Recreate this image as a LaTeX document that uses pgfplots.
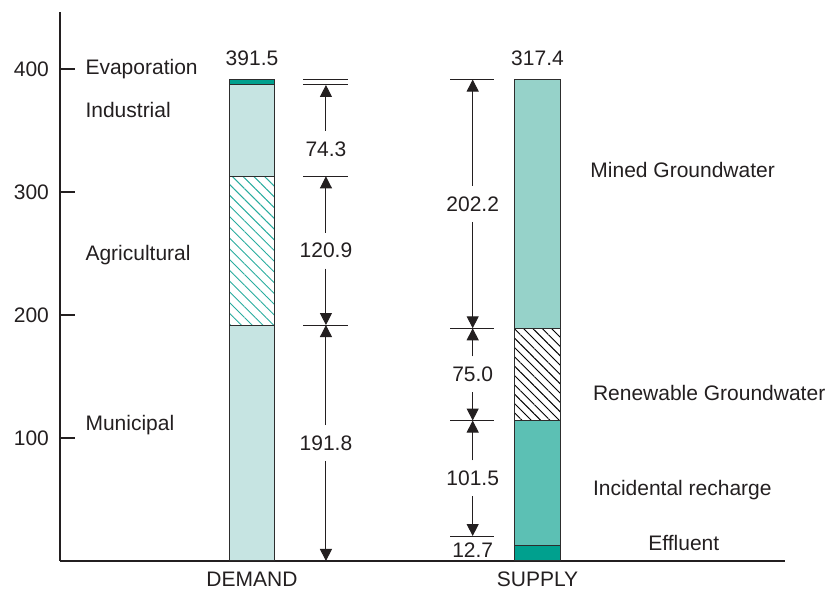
\documentclass[border=0pt]{standalone}
\usepackage{fontspec}
\setmainfont{Liberation Sans}
\usepackage{pgfplots}
\pgfplotsset{compat=1.18}
\usetikzlibrary{patterns.meta,arrows.meta}
\definecolor{lightteal}{RGB}{198,228,226}
\definecolor{mined}{RGB}{150,210,201}
\definecolor{incid}{RGB}{92,192,180}
\definecolor{darkteal}{RGB}{0,160,142}
\definecolor{agri}{RGB}{40,172,158}
\definecolor{txt}{RGB}{35,31,32}
\definecolor{barline}{RGB}{45,45,45}
\newcommand\lf{\fontsize{10.5}{12}\selectfont}
\begin{document}
\begin{tikzpicture}[
  lab/.style={font=\lf, text=txt, inner sep=0pt},
  dim/.style={draw=txt, line width=0.5pt},
  arr/.style={dim, -{Triangle[length=6pt,width=6pt]}},
]
\useasboundingbox (-30pt,-14pt) rectangle (385.5pt,280.5pt);
\pgfplotsset{common/.style={
  scale only axis, width=362.5pt, height=274.5pt,
  xmin=0.3275, xmax=2.8669, ymin=0, ymax=446.3,
  clip=false, ybar stacked, bar width=0.16,
  at={(0,0)}, anchor=south west,
}}
\begin{axis}[common,
  axis x line=bottom, axis y line=left,
  axis line style={-, line width=0.6pt, draw=txt},
  xtick={1,2}, xticklabels={DEMAND,SUPPLY},
  ytick={100,200,300,400},
  tick align=inside, major tick length=7.5pt,
  major x tick style={draw=none},
  y tick style={line width=0.6pt, draw=txt},
  tick label style={font=\lf, text=txt},
  yticklabel style={xshift=-2pt},
  xticklabel style={yshift=-2pt},
  /pgf/number format/assume math mode=true,
]
% DEMAND: Municipal, Agricultural, Industrial, Evaporation
\addplot[draw=barline, line width=0.5pt, fill=lightteal] coordinates {(1,191.8)};
\addplot[draw=barline, line width=0.5pt, pattern={Lines[angle=-45,distance=3.8pt,line width=0.45pt]}, pattern color=agri] coordinates {(1,120.9)};
\addplot[draw=barline, line width=0.5pt, fill=lightteal] coordinates {(1,74.3)};
\addplot[draw=barline, line width=0.5pt, fill=darkteal] coordinates {(1,4.5)};
\end{axis}
\begin{axis}[common, hide axis]
% SUPPLY: Effluent, Incidental recharge, Renewable GW, Mined GW
\addplot[draw=barline, line width=0.5pt, fill=darkteal] coordinates {(2,12.7)};
\addplot[draw=barline, line width=0.5pt, fill=incid] coordinates {(2,101.5)};
\addplot[draw=barline, line width=0.5pt, pattern={Lines[angle=-45,distance=3.3pt,line width=0.45pt]}, pattern color=black] coordinates {(2,75.0)};
\addplot[draw=barline, line width=0.5pt, fill=mined] coordinates {(2,202.2)};

% totals
\node[lab, anchor=south, inner sep=3.3pt, yshift=3.5pt] at (axis cs:1,391.5) {391.5};
\node[lab, anchor=south, inner sep=3.3pt, yshift=3.5pt] at (axis cs:2,391.5) {317.4};

% demand dimension lines
\draw[dim] (axis cs:1.179,391.5) -- (axis cs:1.336,391.5);
\draw[dim] (axis cs:1.179,387.0) -- (axis cs:1.336,387.0);
\draw[dim] (axis cs:1.179,312.7) -- (axis cs:1.336,312.7);
\draw[dim] (axis cs:1.179,191.8) -- (axis cs:1.336,191.8);
\node[lab] at (axis cs:1.259,335) {74.3};
\draw[arr] (axis cs:1.259,349.6) -- (axis cs:1.259,387.0);
\node[lab] at (axis cs:1.259,252.25) {120.9};
\draw[arr] (axis cs:1.259,266.9) -- (axis cs:1.259,312.7);
\draw[arr] (axis cs:1.259,237.6) -- (axis cs:1.259,191.8);
\node[lab] at (axis cs:1.259,95.9) {191.8};
\draw[arr] (axis cs:1.259,110.5) -- (axis cs:1.259,191.8);
\draw[arr] (axis cs:1.259,81.3) -- (axis cs:1.259,0);

% supply dimension lines
\draw[dim] (axis cs:1.694,391.4) -- (axis cs:1.848,391.4);
\draw[dim] (axis cs:1.694,189.2) -- (axis cs:1.848,189.2);
\draw[dim] (axis cs:1.694,114.2) -- (axis cs:1.848,114.2);
\draw[dim] (axis cs:1.694,20.3) -- (axis cs:1.848,20.3);
\node[lab] at (axis cs:1.773,290.3) {202.2};
\draw[arr] (axis cs:1.773,304.9) -- (axis cs:1.773,391.4);
\draw[arr] (axis cs:1.773,275.7) -- (axis cs:1.773,189.2);
\node[lab] at (axis cs:1.773,151.7) {75.0};
\draw[arr] (axis cs:1.773,166.3) -- (axis cs:1.773,189.2);
\draw[arr] (axis cs:1.773,137.1) -- (axis cs:1.773,114.2);
\node[lab] at (axis cs:1.773,67.25) {101.5};
\draw[arr] (axis cs:1.773,81.8) -- (axis cs:1.773,114.2);
\draw[arr] (axis cs:1.773,52.7) -- (axis cs:1.773,20.3);
\node[lab] at (axis cs:1.773,9.0) {12.7};

% category labels
\node[lab, anchor=west] at (axis cs:0.4156,400) {Evaporation};
\node[lab, anchor=west] at (axis cs:0.4156,366.7) {Industrial};
\node[lab, anchor=west] at (axis cs:0.4156,248.8) {Agricultural};
\node[lab, anchor=west] at (axis cs:0.4156,110.6) {Municipal};
\node[lab, anchor=west] at (axis cs:2.184,317.9) {Mined Groundwater};
\node[lab, anchor=west] at (axis cs:2.193,136.6) {Renewable Groundwater};
\node[lab, anchor=west] at (axis cs:2.193,57.7) {Incidental recharge};
\node[lab, anchor=west] at (axis cs:2.387,14.6) {Effluent};
\end{axis}
\end{tikzpicture}
\end{document}
